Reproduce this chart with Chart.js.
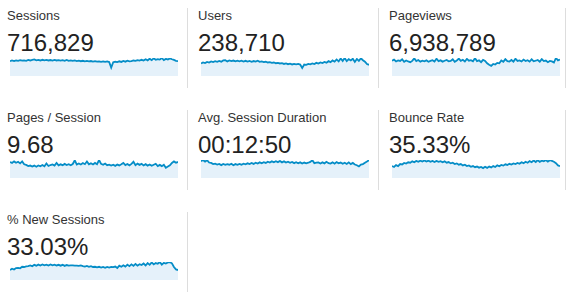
<!DOCTYPE html>
<html>
<head>
<meta charset="utf-8">
<script src="https://cdn.jsdelivr.net/npm/chart.js@4"></script>
<style>
    body { margin: 0; background: #fff; width: 570px; height: 303px; overflow: hidden; position: relative; font-family: Arial, "Liberation Sans", sans-serif; }
    .cell { position: absolute; width: 191px; height: 102px; }
    .title { position: absolute; left: 7px; top: 8px; font-size: 13px; line-height: 15px; color: #333; white-space: nowrap; }
    .total { position: absolute; left: 7px; top: 29px; font-size: 24px; line-height: 28px; color: #222; white-space: nowrap; }
    .sep { position: absolute; top: 8px; width: 1px; height: 80px; background: #ddd; }
    canvas { position: absolute; left: 10px; top: 56px; }
</style>
</head>
<body>
<script>
const metricNames = ["Sessions", "Users", "Pageviews", "Pages / Session", "Avg. Session Duration", "Bounce Rate", "% New Sessions"];
const metricTotals = ["716,829", "238,710", "6,938,789", "9.68", "00:12:50", "35.33%", "33.03%"];

const sessions = [
    8300, 8700, 8400, 8800, 8500, 8900, 8600, 8800, 8550, 9000,
    8700, 9100, 9300, 8800, 9000, 8700, 9100, 8800, 9000, 8700,
    8950, 8650, 9000, 8700, 8900, 8600, 8850, 8550, 9050, 8500,
    8750, 8450, 8700, 8400, 8600, 8300, 8550, 8250, 8450, 8200,
    8400, 8100, 8350, 8050, 8250, 7950, 8200, 7900, 8150, 7850,
    4700, 7700, 8000, 7800, 8250, 7900, 8450, 8050, 8600, 8200,
    8300, 8700, 8500, 8900, 8600, 9100, 8700, 9400, 8800, 9700,
    8900, 9900, 9100, 9500, 9200, 10100, 8900, 9600, 9300, 9900,
    9400, 9000, 8500, 8300
];
const users = [
    5100, 5600, 5300, 5800, 5500, 6000, 5700, 6100, 5800, 6200,
    5900, 6400, 6500, 6000, 6400, 6100, 6350, 6000, 6300, 6050,
    6300, 5950, 6250, 5900, 6200, 5850, 6150, 5900, 6300, 5800,
    6000, 5700, 5850, 5550, 5700, 5400, 5550, 5250, 5400, 5150,
    5250, 4950, 5150, 4850, 5050, 4750, 5000, 4800, 4950, 4700,
    3300, 4700, 4600, 5000, 4800, 5200, 4900, 5400, 5100, 5600,
    5300, 5800, 5500, 6100, 5700, 6400, 5900, 6800, 6000, 7200,
    6200, 7400, 6100, 6900, 6400, 7100, 5800, 7000, 6200, 7300,
    6500, 5900, 4900, 4600
];
const pageviews = [
    84000, 90000, 80000, 86000, 83000, 92000, 78000, 85000, 80000, 76000,
    83000, 97000, 82000, 88000, 79000, 84000, 81000, 86000, 78000, 83000,
    87000, 80000, 95000, 82000, 86000, 79000, 84000, 88000, 81000, 83000,
    92000, 78000, 85000, 96000, 83000, 89000, 80000, 94000, 84000, 87000,
    81000, 98000, 82000, 86000, 76000, 89000, 83000, 70000, 62000, 56000,
    66000, 63000, 72000, 70000, 85000, 78000, 93000, 82000, 80000, 88000,
    79000, 95000, 83000, 86000, 80000, 90000, 82000, 87000, 79000, 92000,
    81000, 84000, 88000, 79000, 93000, 82000, 85000, 76000, 83000, 80000,
    74000, 99000, 86000, 90000
];
const pagesPerSession = [
    11.4, 10.8, 11.9, 10.9, 11.6, 10.5, 11.9, 9.8, 9.4, 8.5,
    8.9, 8.2, 8.9, 8.1, 9.0, 8.4, 9.3, 8.4, 10.4, 8.6,
    9.3, 9.7, 8.9, 10.8, 9.1, 9.8, 9.2, 10.1, 9.3, 9.9,
    9.1, 10.0, 12.7, 9.6, 10.4, 9.7, 10.7, 9.9, 11.8, 9.8,
    10.6, 9.7, 10.8, 9.9, 12.9, 10.1, 9.5, 10.4, 9.2, 9.6,
    8.9, 9.5, 8.7, 9.6, 9.0, 9.8, 10.8, 9.2, 10.0, 9.1,
    10.1, 11.6, 9.2, 10.3, 9.4, 10.1, 9.0, 9.9, 8.9, 9.7,
    8.8, 9.5, 10.2, 8.6, 9.4, 8.5, 9.5, 7.4, 8.3, 9.1,
    10.8, 11.9, 10.9, 11.5
];
const avgDuration = [
    860, 920, 840, 910, 790, 770, 710, 730, 690, 720,
    660, 720, 670, 710, 680, 730, 650, 710, 670, 720,
    680, 730, 700, 750, 710, 770, 720, 780, 740, 800,
    750, 810, 770, 830, 790, 850, 800, 860, 810, 870,
    800, 850, 790, 830, 780, 820, 760, 810, 750, 800,
    740, 790, 750, 780, 820, 910, 760, 790, 800, 740,
    800, 750, 830, 760, 740, 800, 730, 810, 750, 790,
    730, 780, 720, 800, 710, 770, 690, 650, 590, 690,
    710, 780, 840, 910
];
const bounceRate = [
    26.5, 24.5, 28.5, 26.5, 31.0, 30.0, 33.5, 32.0, 35.0, 34.0,
    37.0, 35.0, 38.0, 36.0, 38.5, 36.5, 39.0, 36.5, 38.5, 36.0,
    38.0, 35.5, 38.0, 36.0, 37.5, 35.0, 37.0, 34.0, 35.5, 32.5,
    34.0, 31.0, 32.5, 29.5, 31.0, 28.0, 29.5, 26.5, 28.0, 25.0,
    26.5, 24.0, 25.5, 23.0, 24.5, 22.0, 25.0, 22.5, 25.5, 23.5,
    26.5, 24.5, 28.0, 26.0, 29.0, 27.5, 30.5, 29.0, 31.5, 30.0,
    32.5, 31.0, 33.5, 31.5, 35.0, 33.0, 36.0, 34.0, 37.5, 35.0,
    39.0, 35.5, 40.0, 36.0, 38.5, 37.0, 40.0, 36.5, 39.5, 38.0,
    36.0, 33.0, 28.0, 26.5
];
const newSessions = [
    23.0, 26.0, 24.0, 27.5, 28.0, 27.0, 30.5, 30.0, 31.5, 32.0,
    33.5, 31.5, 35.0, 33.0, 35.5, 33.5, 36.0, 34.0, 35.5, 33.5,
    36.0, 34.0, 35.5, 33.5, 35.0, 33.0, 35.0, 32.5, 34.5, 33.0,
    33.5, 33.5, 33.0, 33.0, 32.5, 33.5, 32.0, 31.0, 32.5, 30.5,
    32.0, 30.0, 30.5, 29.0, 30.5, 28.5, 30.0, 28.0, 30.0, 28.5,
    30.0, 29.5, 31.0, 27.5, 33.0, 30.5, 34.0, 31.0, 35.5, 32.0,
    36.0, 32.5, 37.0, 33.0, 36.5, 34.5, 38.0, 33.5, 39.0, 35.0,
    40.5, 36.0, 39.0, 37.5, 41.5, 35.5, 39.5, 38.0, 40.5, 41.0,
    38.5, 30.0, 24.5, 23.0
];

const days = sessions.map((_, i) => i + 1);
const allSeries = [sessions, users, pageviews, pagesPerSession, avgDuration, bounceRate, newSessions];

const colX = [0, 191, 382];
const sepX = [187, 187, 183];
const rowY = [0, 102, 204];

metricNames.forEach((name, i) => {
    const col = i % 3;
    const row = Math.floor(i / 3);

    const cell = document.createElement("div");
    cell.className = "cell";
    cell.style.left = colX[col] + "px";
    cell.style.top = rowY[row] + "px";
    cell.innerHTML =
        `<div class="title">${name}</div>` +
        `<div class="total">${metricTotals[i]}</div>` +
        `<div class="sep" style="left:${sepX[col]}px"></div>`;

    const canvas = document.createElement("canvas");
    canvas.width = 168;
    canvas.height = 20;
    cell.appendChild(canvas);
    document.body.appendChild(cell);

    const data = allSeries[i];
    new Chart(canvas.getContext("2d"), {
        type: "line",
        data: {
            labels: days,
            datasets: [{
                data: data,
                borderColor: "#058dc7",
                backgroundColor: "#e5f1fa",
                borderWidth: 1.8,
                pointRadius: 0,
                tension: 0,
                fill: "origin"
            }]
        },
        options: {
            responsive: false,
            animation: false,
            devicePixelRatio: 1,
            layout: { padding: { top: 2, bottom: 0, left: 0, right: 0 } },
            plugins: { legend: { display: false }, tooltip: { enabled: false } },
            scales: {
                x: { display: false },
                y: { display: false, min: 0, max: Math.max(...data) }
            }
        }
    });
});
</script>
</body>
</html>
